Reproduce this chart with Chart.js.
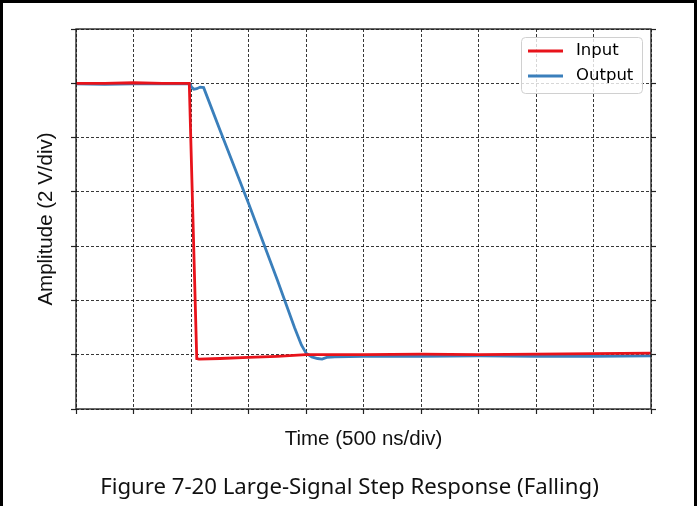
<!DOCTYPE html>
<html>
<head>
<meta charset="utf-8">
<script src="https://cdn.jsdelivr.net/npm/chart.js@4.4.1/dist/chart.umd.min.js"></script>
<style>
  html, body { margin: 0; padding: 0; background: #fff; }
  #wrap { position: relative; width: 699px; height: 506px; overflow: hidden; }
  #frame {
    position: absolute; left: 0; top: 0; width: 691px; height: 510px;
    border-left: 3px solid #000; border-top: 3px solid #000; border-right: 3px solid #000;
    pointer-events: none;
  }
  #chart { position: absolute; left: 0; top: 0; }
  #caption {
    position: absolute; left: 0; width: 699px; top: 469.5px; text-align: center;
    font-family: "Noto Sans", "Open Sans", sans-serif; font-size: 22.2px; color: #111;
  }
</style>
</head>
<body>
<div id="wrap">
  <canvas id="chart" width="699" height="506"></canvas>
  <div id="caption">Figure 7-20 Large-Signal Step Response (Falling)</div>
  <div id="frame"></div>
</div>
<script>
// values in divisions (x: 500 ns/div, y: 2 V/div)
var inputTime = [0, 0.5, 1.0, 1.5, 1.97, 2.1, 2.14, 2.5, 3.0, 3.5, 4.0, 5.0, 6.0, 7.0, 8.0, 9.0, 10.0];
var inputAmp  = [6.0, 6.0, 6.01, 6.0, 6.0, 0.93, 0.92, 0.93, 0.95, 0.97, 1.0, 1.0, 1.01, 1.0, 1.01, 1.02, 1.03];

var outputTime = [0, 0.5, 1.0, 1.5, 1.98, 2.01, 2.05, 2.1, 2.16, 2.22, 2.5, 3.0, 3.5, 3.8, 3.92, 4.0, 4.1, 4.2, 4.28, 4.36, 4.5, 5.0, 6.0, 7.0, 8.0, 9.0, 10.0];
var outputAmp  = [5.99, 5.98, 5.99, 5.99, 5.99, 5.93, 5.89, 5.90, 5.93, 5.92, 5.15, 3.79, 2.38, 1.5, 1.18, 1.03, 0.96, 0.93, 0.92, 0.95, 0.96, 0.97, 0.97, 0.98, 0.97, 0.97, 0.98];

var seriesNames = ['Input', 'Output'];
var seriesColors = ['#e8131b', '#3a7fbb'];

var xMin = 0, xMax = 10, yMin = 0, yMax = 7;

function toPoints(xs, ys) {
  return xs.map(function (x, i) { return { x: x, y: ys[i] }; });
}

var gridColor = 'rgba(0,0,0,0.78)';

// matplotlib-like legend box in the top right of the plot
var legendBox = {
  id: 'legendBox',
  afterDraw: function (chart) {
    var ctx = chart.ctx;
    var x = 521, y = 37, w = 121, h = 56;
    ctx.save();
    ctx.beginPath();
    ctx.roundRect(x + 0.5, y + 0.5, w, h, 4);
    ctx.fillStyle = 'rgba(255,255,255,0.8)';
    ctx.fill();
    ctx.strokeStyle = '#d0d0d0';
    ctx.lineWidth = 1;
    ctx.stroke();
    ctx.font = '16.5px "DejaVu Sans"';
    ctx.textBaseline = 'middle';
    seriesNames.forEach(function (name, i) {
      var ly = 51 + i * 25;
      ctx.beginPath();
      ctx.moveTo(528, ly);
      ctx.lineTo(563, ly);
      ctx.strokeStyle = seriesColors[i];
      ctx.lineWidth = 2.8;
      ctx.stroke();
      ctx.fillStyle = '#000';
      ctx.fillText(name, 576, ly);
    });
    ctx.restore();
  }
};

// solid frame around the plot area
var plotFrame = {
  id: 'plotFrame',
  afterDatasetsDraw: function (chart) {
    var a = chart.chartArea, ctx = chart.ctx;
    ctx.save();
    ctx.strokeStyle = '#1a1a1a';
    ctx.lineWidth = 1.3;
    ctx.strokeRect(a.left, a.top, a.right - a.left, a.bottom - a.top);
    ctx.restore();
  }
};

var titleFont = { family: '"Liberation Sans", Arial, sans-serif', size: 20.5 };

new Chart(document.getElementById('chart'), {
  type: 'line',
  data: {
    datasets: [
      {
        label: seriesNames[0],
        data: toPoints(inputTime, inputAmp),
        borderColor: seriesColors[0],
        borderWidth: 2.8,
        pointRadius: 0,
        tension: 0
      },
      {
        label: seriesNames[1],
        data: toPoints(outputTime, outputAmp),
        borderColor: seriesColors[1],
        borderWidth: 2.8,
        pointRadius: 0,
        tension: 0
      }
    ]
  },
  options: {
    responsive: false,
    animation: false,
    events: [],
    layout: { padding: { top: 29, left: 0, right: 0, bottom: 0 } },
    plugins: { legend: { display: false }, tooltip: { enabled: false } },
    scales: {
      x: {
        type: 'linear',
        min: xMin, max: xMax,
        z: 1,
        afterFit: function (s) { s.height = 97; },
        ticks: { display: false, stepSize: 1 },
        grid: { color: gridColor, lineWidth: 1, tickLength: 5, tickColor: '#222', tickWidth: 1.2, tickBorderDash: [] },
        border: { display: false, dash: [3, 2] },
        title: {
          display: true, text: 'Time (500 ns/div)', color: '#111',
          font: titleFont,
          padding: { top: 0, bottom: 54.7 }
        }
      },
      y: {
        type: 'linear',
        position: 'left',
        min: yMin, max: yMax,
        z: 1,
        afterFit: function (s) { s.width = 76; },
        ticks: { display: false, stepSize: 1 },
        grid: { color: gridColor, lineWidth: 1, tickLength: 5, tickColor: '#222', tickWidth: 1.2, tickBorderDash: [] },
        border: { display: false, dash: [3, 2] },
        title: {
          display: true, text: 'Amplitude (2 V/div)', color: '#111',
          font: titleFont,
          padding: { top: 34, bottom: 0 }
        }
      },
      y2: {
        type: 'linear',
        position: 'right',
        min: yMin, max: yMax,
        afterFit: function (s) { s.width = 48; },
        ticks: { display: false, stepSize: 1 },
        grid: { drawOnChartArea: false, tickLength: 5, tickColor: '#222', tickWidth: 1.2 },
        border: { display: false }
      }
    }
  },
  plugins: [plotFrame, legendBox]
});
</script>
</body>
</html>
